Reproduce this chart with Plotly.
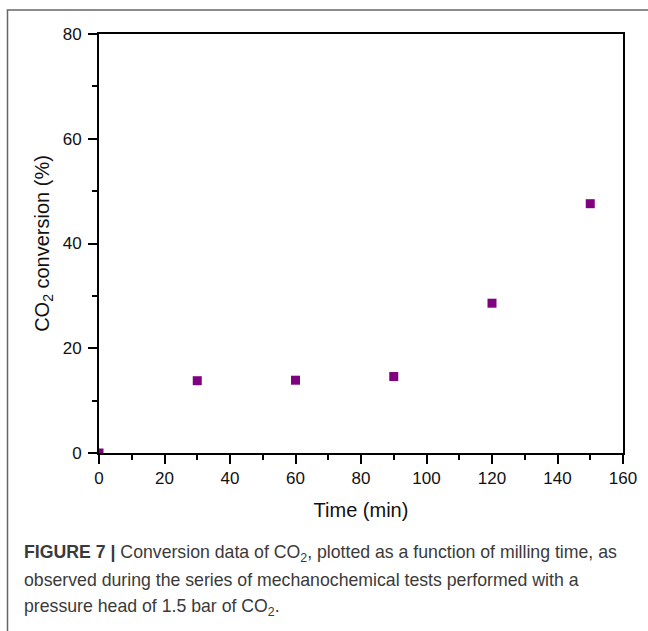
import plotly.graph_objects as go

# Data
time_min = [0, 30, 60, 90, 120, 150]
co2_conversion = [0, 13.8, 13.9, 14.6, 28.6, 47.6]

x_ticks = [0, 20, 40, 60, 80, 100, 120, 140, 160]
y_ticks = [0, 20, 40, 60, 80]

caption_lines = [
    "<b>FIGURE 7 |</b> Conversion data of CO<sub>2</sub>, plotted as a function of milling time, as",
    "observed during the series of mechanochemical tests performed with a",
    "pressure head of 1.5 bar of CO<sub>2</sub>.",
]

FONT = "Liberation Sans, Arial, sans-serif"

fig = go.Figure()
fig.add_trace(go.Scatter(
    x=time_min, y=co2_conversion, mode="markers",
    marker=dict(symbol="square", size=9, color="#800080",
                line=dict(width=0)),
    cliponaxis=True, showlegend=False,
))

# plot area in pixels: x 99..623, y 34..453
L, R, T, B = 99, 623, 34, 453
W, H = 648, 631

def px(xp):
    return (xp - L) / (R - L)

def py(yp):
    return (B - yp) / (B - T)

axis_common = dict(
    showline=True, linecolor="black", linewidth=2, mirror=True,
    ticks="outside", ticklen=9, tickwidth=2, tickcolor="black",
    showgrid=False, zeroline=False,
    tickfont=dict(family=FONT, size=17, color="#111"),
)

fig.update_xaxes(
    range=[0, 160], tickvals=x_ticks,
    minor=dict(dtick=10, tick0=0, ticks="outside", ticklen=5, tickwidth=2,
               tickcolor="black", showgrid=False),
    title=dict(text="Time (min)", font=dict(family=FONT, size=20, color="#111"),
               standoff=16),
    **axis_common,
)
fig.update_yaxes(
    range=[0, 80], tickvals=y_ticks, ticklabelstandoff=3,
    minor=dict(dtick=10, tick0=0, ticks="outside", ticklen=5, tickwidth=2,
               tickcolor="black", showgrid=False),
    title=dict(text="CO<sub>2</sub> conversion (%)",
               font=dict(family=FONT, size=20, color="#111"), standoff=8),
    **axis_common,
)

# outer frame
fig.add_shape(type="rect", xref="paper", yref="paper",
              x0=px(7.5), x1=px(700), y0=py(10), y1=py(700),
              line=dict(color="#666", width=1.5), layer="below")

caption_y = [553, 580, 607]
for text, yp in zip(caption_lines, caption_y):
    fig.add_annotation(
        text=text, xref="paper", yref="paper", x=px(22), y=py(yp),
        xanchor="left", yanchor="middle", showarrow=False, align="left",
        font=dict(family=FONT, size=17.7, color="#3a3a3a"),
    )

fig.update_layout(
    width=W, height=H, autosize=False,
    margin=dict(l=L, r=W - R, t=T, b=H - B, pad=0),
    paper_bgcolor="white", plot_bgcolor="white",
)

fig.write_html("out.html")
